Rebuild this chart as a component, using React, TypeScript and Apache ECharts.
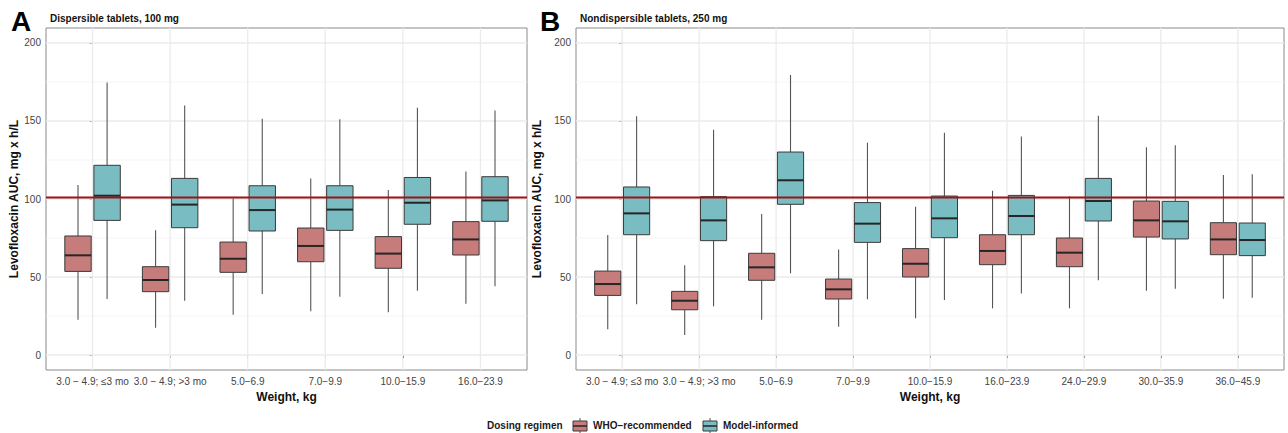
import React, { useEffect, useRef } from "react";
import * as echarts from "echarts";

// ---------- data ----------
const catsA = ["3.0 − 4.9; ≤3 mo", "3.0 − 4.9; >3 mo", "5.0−6.9", "7.0−9.9", "10.0−15.9", "16.0−23.9"];
const catsB = [...catsA, "24.0−29.9", "30.0−35.9", "36.0−45.9"];

// [low whisker, Q1, median, Q3, high whisker]
const whoA = [
  [22.6, 53.6, 63.9, 76.3, 109.0],
  [17.5, 40.6, 48.1, 56.6, 79.9],
  [25.8, 53.0, 61.7, 72.4, 100.4],
  [28.0, 59.8, 69.9, 81.4, 113.2],
  [27.4, 55.6, 65.0, 75.9, 105.8],
  [32.9, 64.1, 74.1, 85.5, 117.7],
];
const modelA = [
  [35.9, 86.3, 102.1, 121.6, 174.6],
  [34.8, 81.6, 96.4, 113.2, 160.0],
  [39.1, 79.5, 92.9, 108.5, 151.5],
  [37.4, 79.9, 93.2, 108.5, 151.1],
  [41.2, 83.8, 97.6, 113.8, 158.5],
  [44.0, 85.7, 99.1, 114.3, 156.8],
];
const whoB = [
  [16.5, 38.2, 45.5, 53.8, 76.9],
  [12.8, 29.0, 34.8, 40.8, 57.5],
  [22.6, 47.9, 56.2, 65.2, 90.4],
  [18.2, 35.9, 42.1, 48.7, 67.7],
  [23.5, 50.0, 58.5, 68.2, 95.1],
  [29.9, 57.9, 66.7, 77.1, 105.3],
  [29.9, 56.6, 65.6, 75.0, 101.7],
  [41.2, 75.6, 86.3, 98.7, 133.1],
  [36.1, 64.3, 74.1, 84.8, 115.4],
];
const modelB = [
  [32.5, 77.1, 90.8, 107.7, 153.0],
  [31.2, 73.3, 86.3, 101.5, 144.4],
  [52.4, 96.6, 112.0, 130.1, 179.5],
  [35.7, 72.2, 84.2, 97.7, 136.1],
  [35.3, 75.2, 87.6, 101.9, 142.5],
  [39.5, 77.1, 89.1, 102.3, 140.1],
  [47.9, 85.9, 98.7, 113.2, 153.4],
  [42.5, 74.4, 85.7, 98.5, 134.4],
  [36.7, 63.7, 73.7, 84.6, 115.8],
];
const targetAUC = 101;
const yTicks = [0, 50, 100, 150, 200];
const yMinor = [25, 75, 125, 175];

const FONT = "'Liberation Sans', Arial, Helvetica, sans-serif";
const RED = "#C67C7B";
const TEAL = "#79BCC2";
const BOX_W = 0.34;
const DODGE = 0.1875;

function boxRender(offset: number, fill: string) {
  return (params: any, api: any) => {
    const x = api.value(0) + offset;
    const lo = api.coord([x, api.value(1)]);
    const q1 = api.coord([x, api.value(2)]);
    const md = api.coord([x, api.value(3)]);
    const q3 = api.coord([x, api.value(4)]);
    const hi = api.coord([x, api.value(5)]);
    const l = api.coord([x - BOX_W / 2, 0])[0];
    const r = api.coord([x + BOX_W / 2, 0])[0];
    const wStyle = { stroke: "#555555", lineWidth: 1.1 };
    return {
      type: "group",
      children: [
        { type: "line", shape: { x1: lo[0], y1: lo[1], x2: q1[0], y2: q1[1] }, style: wStyle },
        { type: "line", shape: { x1: q3[0], y1: q3[1], x2: hi[0], y2: hi[1] }, style: wStyle },
        {
          type: "rect",
          shape: { x: l, y: q3[1], width: r - l, height: q1[1] - q3[1] },
          style: { fill, stroke: "#3a3a3a", lineWidth: 1 },
        },
        { type: "line", shape: { x1: l, y1: md[1], x2: r, y2: md[1] }, style: { stroke: "#262626", lineWidth: 2 } },
      ],
    };
  };
}

function hLineRender(color: string, width: number) {
  return (params: any, api: any) => {
    const cs = params.coordSys;
    const y = api.coord([0, api.value(0)])[1];
    return {
      type: "line",
      shape: { x1: cs.x, y1: y, x2: cs.x + cs.width, y2: y },
      style: { stroke: color, lineWidth: width },
    };
  };
}

function vLineRender(color: string, width: number) {
  return (params: any, api: any) => {
    const cs = params.coordSys;
    const x = api.coord([api.value(0), 0])[0];
    return {
      type: "line",
      shape: { x1: x, y1: cs.y, x2: x, y2: cs.y + cs.height },
      style: { stroke: color, lineWidth: width },
    };
  };
}

function panelSeries(idx: number, cats: string[], who: number[][], model: number[][]) {
  const common = { type: "custom", xAxisIndex: idx, yAxisIndex: idx, silent: true, clip: true };
  return [
    { ...common, z: 1, renderItem: hLineRender("#ebebeb", 1.3), data: yTicks.map((v) => [v]), encode: { x: -1, y: 0 } },
    { ...common, z: 1, renderItem: hLineRender("#f2f2f2", 0.8), data: yMinor.map((v) => [v]), encode: { x: -1, y: 0 } },
    { ...common, z: 1, renderItem: vLineRender("#ebebeb", 1.3), data: cats.map((_, i) => [i]), encode: { x: 0, y: -1 } },
    {
      ...common,
      name: "WHO−recommended",
      z: 3,
      renderItem: boxRender(-DODGE, RED),
      data: who.map((d, i) => [i, ...d]),
      encode: { x: 0, y: [1, 2, 3, 4, 5] },
    },
    {
      ...common,
      name: "Model-informed",
      z: 3,
      renderItem: boxRender(DODGE, TEAL),
      data: model.map((d, i) => [i, ...d]),
      encode: { x: 0, y: [1, 2, 3, 4, 5] },
    },
    { ...common, z: 4, renderItem: hLineRender("#9B1515", 2), data: [[targetAUC]], encode: { x: -1, y: 0 } },
  ];
}

function xAxisFor(idx: number, cats: string[]) {
  const vals = cats.map((_, i) => i);
  return {
    type: "value",
    gridIndex: idx,
    min: -0.6,
    max: cats.length - 0.4,
    axisLine: { show: false },
    splitLine: { show: false },
    axisTick: { show: true, customValues: vals, length: 3, lineStyle: { color: "#333333" } },
    axisLabel: {
      customValues: vals,
      formatter: (v: number) => cats[Math.round(v)] ?? "",
      color: "#444444",
      fontSize: 10,
      fontFamily: FONT,
      margin: 6,
    },
    name: "Weight, kg",
    nameLocation: "middle",
    nameGap: 16,
    nameTextStyle: { fontSize: 12, fontWeight: "bold", color: "#111", fontFamily: FONT, verticalAlign: "top" },
  };
}

function yAxisFor(idx: number) {
  return {
    type: "value",
    gridIndex: idx,
    min: -9.6,
    max: 209.6,
    axisLine: { show: false },
    splitLine: { show: false },
    axisTick: { show: true, customValues: yTicks, length: 3, lineStyle: { color: "#333333" } },
    axisLabel: { customValues: yTicks, color: "#444444", fontSize: 10, fontFamily: FONT, margin: 5 },
    name: "Levofloxacin AUC, mg x h/L",
    nameLocation: "middle",
    nameGap: 25,
    nameRotate: 90,
    nameTextStyle: { fontSize: 12, fontWeight: "bold", color: "#111", fontFamily: FONT },
  };
}

function legendKey(x: number, fill: string) {
  return [
    { type: "line", shape: { x1: x + 7, y1: 418, x2: x + 7, y2: 434 }, style: { stroke: "#555", lineWidth: 1 } },
    { type: "rect", shape: { x, y: 421, width: 14, height: 10 }, style: { fill, stroke: "#3a3a3a", lineWidth: 1 } },
    { type: "line", shape: { x1: x, y1: 426, x2: x + 14, y2: 426 }, style: { stroke: "#262626", lineWidth: 1.5 } },
  ];
}

export default function App() {
  const ref = useRef<HTMLDivElement>(null);
  useEffect(() => {
    if (!ref.current) return;
    const chart = echarts.init(ref.current, undefined, { renderer: "svg" });
    const legendText = { fontSize: 10, fontWeight: "bold", fill: "#1a1a1a", fontFamily: FONT, verticalAlign: "middle" };
    chart.setOption({
      animation: false,
      backgroundColor: "#ffffff",
      textStyle: { fontFamily: FONT },
      title: [
        { text: "A", left: 6, top: 2, textStyle: { fontSize: 28, fontWeight: "bold", color: "#000", fontFamily: FONT } },
        { text: "Dispersible tablets, 100 mg", left: 45, top: 8, textStyle: { fontSize: 10, fontWeight: "bold", color: "#111", fontFamily: FONT } },
        { text: "B", left: 535, top: 2, textStyle: { fontSize: 28, fontWeight: "bold", color: "#000", fontFamily: FONT } },
        { text: "Nondispersible tablets, 250 mg", left: 575, top: 8, textStyle: { fontSize: 10, fontWeight: "bold", color: "#111", fontFamily: FONT } },
      ],
      grid: [
        { left: 46, top: 28, width: 481, height: 342, show: true, borderColor: "#8a8a8a", borderWidth: 1, backgroundColor: "#fff" },
        { left: 576, top: 28, width: 708, height: 342, show: true, borderColor: "#8a8a8a", borderWidth: 1, backgroundColor: "#fff" },
      ],
      xAxis: [xAxisFor(0, catsA), xAxisFor(1, catsB)],
      yAxis: [yAxisFor(0), yAxisFor(1)],
      series: [...panelSeries(0, catsA, whoA, modelA), ...panelSeries(1, catsB, whoB, modelB)],
      graphic: [
        { type: "text", left: 487, top: 420, style: { text: "Dosing regimen", ...legendText } },
        ...legendKey(573, RED),
        { type: "text", left: 593, top: 420, style: { text: "WHO−recommended", ...legendText } },
        ...legendKey(703, TEAL),
        { type: "text", left: 723, top: 420, style: { text: "Model-informed", ...legendText } },
      ],
    });
    return () => chart.dispose();
  }, []);
  return <div ref={ref} style={{ position: "fixed", left: 0, top: 0, width: 1288, height: 433 }} />;
}
